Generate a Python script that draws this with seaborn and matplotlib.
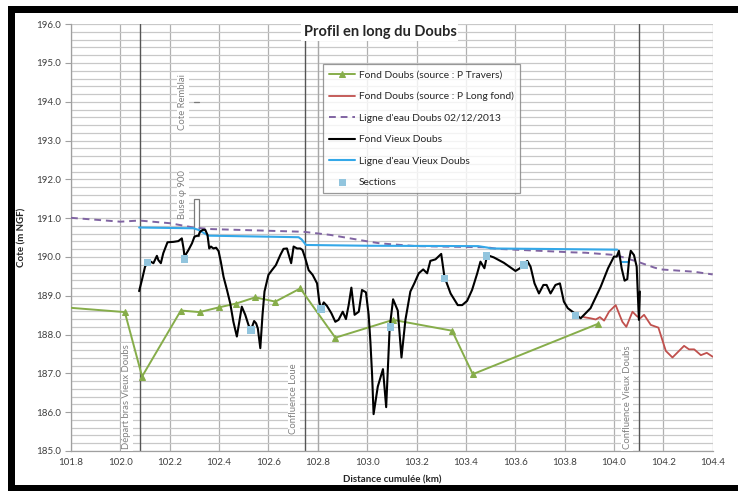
import numpy as np
import pandas as pd
import matplotlib
matplotlib.use("Agg")
import matplotlib.pyplot as plt
from matplotlib.patches import Rectangle
from matplotlib.ticker import MultipleLocator
import seaborn as sns

# ---------------------------------------------------------------
# Data (distance in km, cote in m NGF)
# ---------------------------------------------------------------
green_x = [101.70, 102.018, 102.088, 102.245, 102.321, 102.398, 102.469, 102.546,
           102.628, 102.729, 102.871, 103.105, 103.344, 103.428, 103.936]
green_y = [188.74, 188.58, 186.92, 188.62, 188.58, 188.70, 188.80, 188.96,
           188.85, 189.19, 187.92, 188.38, 188.10, 186.98, 188.28]

red_x = [103.878, 103.905, 103.926, 103.943, 103.960, 103.980, 104.007, 104.020,
         104.034, 104.050, 104.075, 104.092, 104.106, 104.122, 104.149, 104.180,
         104.210, 104.237, 104.284, 104.304, 104.325, 104.352, 104.376, 104.400]
red_y = [188.45, 188.42, 188.39, 188.45, 188.36, 188.59, 188.76, 188.55,
         188.33, 188.20, 188.59, 188.48, 188.42, 188.51, 188.25, 188.18,
         187.58, 187.41, 187.71, 187.62, 187.62, 187.47, 187.53, 187.43]

purple_x = [101.80, 102.00, 102.077, 102.202, 102.296, 102.364, 102.742, 102.85,
            103.013, 103.054, 103.20, 103.486, 103.527, 103.831, 103.885, 104.007,
            104.095, 104.162, 104.19, 104.325, 104.40]
purple_y = [191.01, 190.91, 190.94, 190.87, 190.76, 190.72, 190.65, 190.57,
            190.39, 190.35, 190.28, 190.25, 190.21, 190.12, 190.11, 190.05,
            189.88, 189.73, 189.68, 189.62, 189.55]

black_x = [102.076, 102.089, 102.100, 102.110, 102.123, 102.134, 102.148, 102.154, 102.164, 102.174,
           102.191, 102.215, 102.235, 102.249, 102.256, 102.260, 102.276, 102.290, 102.300, 102.310,
           102.316, 102.323, 102.334, 102.344, 102.353, 102.360, 102.367, 102.377, 102.388, 102.398,
           102.407, 102.418, 102.432, 102.445, 102.458, 102.472, 102.482, 102.492, 102.506, 102.519,
           102.529, 102.542, 102.550, 102.557, 102.567, 102.576, 102.584, 102.600, 102.614, 102.630,
           102.648, 102.661, 102.675, 102.692, 102.702, 102.716, 102.729, 102.738, 102.749, 102.763,
           102.779, 102.797, 102.806, 102.813, 102.824, 102.837, 102.855, 102.871, 102.884, 102.901,
           102.914, 102.925, 102.936, 102.949, 102.966, 102.979, 102.995, 103.006, 103.013, 103.020,
           103.026, 103.043, 103.064, 103.077, 103.091, 103.105, 103.124, 103.139, 103.155, 103.175,
           103.191, 103.209, 103.227, 103.243, 103.256, 103.277, 103.300, 103.313, 103.338, 103.367,
           103.385, 103.405, 103.425, 103.446, 103.459, 103.475, 103.486, 103.513, 103.554, 103.601,
           103.619, 103.635, 103.649, 103.662, 103.678, 103.696, 103.714, 103.727, 103.743, 103.763,
           103.781, 103.797, 103.813, 103.838, 103.865, 103.905, 103.946, 103.976, 104.000, 104.011,
           104.020, 104.031, 104.043, 104.054, 104.061, 104.068, 104.081, 104.092, 104.097, 104.101,
           104.105]
black_y = [189.12, 189.45, 189.75, 189.86, 189.88, 189.84, 190.03, 189.92, 189.84, 190.10,
           190.38, 190.39, 190.41, 190.48, 190.22, 190.01, 190.18, 190.35, 190.52, 190.55,
           190.55, 190.65, 190.70, 190.70, 190.57, 190.22, 190.27, 190.22, 190.24, 190.15,
           189.88, 189.49, 189.15, 188.81, 188.33, 187.95, 188.33, 188.72, 188.51, 188.25,
           188.12, 188.35, 188.29, 188.16, 187.65, 188.51, 189.11, 189.54, 189.66, 189.79,
           190.05, 190.21, 190.22, 189.84, 190.27, 190.22, 190.22, 190.18, 189.97, 189.66,
           189.54, 189.32, 188.85, 188.66, 188.83, 188.74, 188.55, 188.33, 188.38, 188.59,
           188.40, 188.76, 189.21, 188.51, 188.59, 189.15, 189.09, 188.51, 187.82, 186.96,
           185.95, 186.66, 187.11, 186.13, 188.16, 188.91, 188.62, 187.41, 188.38, 189.11,
           189.32, 189.58, 189.68, 189.58, 189.90, 189.94, 190.08, 189.49, 189.06, 188.76,
           188.76, 188.87, 189.15, 189.58, 189.88, 189.71, 190.05, 189.99, 189.85, 189.64,
           189.71, 189.82, 189.90, 189.75, 189.32, 189.06, 189.28, 189.28, 189.06, 189.28,
           189.32, 188.85, 188.68, 188.56, 188.42, 188.68, 189.23, 189.71, 190.01, 190.01,
           190.16, 189.71, 189.39, 189.43, 189.92, 190.16, 190.05, 189.75, 188.98, 188.38,
           189.11]

blue_x = [102.076, 102.296, 102.316, 102.357, 102.722, 102.735, 102.752, 103.000,
          103.450, 103.490, 103.500, 104.013]
blue_y = [190.76, 190.74, 190.70, 190.55, 190.51, 190.45, 190.31, 190.29,
          190.28, 190.24, 190.22, 190.19]
blue_seg_x = [104.031, 104.061]
blue_seg_y = [189.88, 189.88]

sec_x = [102.110, 102.260, 102.529, 102.813, 103.094, 103.313, 103.484, 103.635, 103.845]
sec_y = [189.86, 189.95, 188.12, 188.66, 188.20, 189.45, 190.03, 189.79, 188.49]

# vertical reference lines and their labels
ref_lines = [102.08, 102.75, 104.10]
ref_labels = ["Départ bras Vieux Doubs", "Confluence Loue", "Confluence Vieux Doubs"]
ref_label_x = [102.026, 102.702, 104.054]
ref_label_y = [185.04, 185.45, 185.04]

labels = ["Fond Doubs (source : P Travers)", "Fond Doubs (source : P Long fond)",
          "Ligne d'eau Doubs 02/12/2013", "Fond Vieux Doubs",
          "Ligne d'eau Vieux Doubs", "Sections"]

GREEN = "#86ad4a"
RED = "#c0504d"
PURPLE = "#8064a2"
BLUE = "#34a8e8"
SECT = "#92c5de"
GRAYTXT = "#808080"

sns.set_style("white")
plt.rcParams["font.family"] = ["Lato", "DejaVu Sans"]

fig = plt.figure(figsize=(7.38, 4.91), dpi=100)
ax = fig.add_axes([71 / 738, 1 - 451 / 491, 641.7 / 738, 426.8 / 491])

# gridlines
ax.set_xlim(101.8, 104.4)
ax.set_ylim(185, 196)
ax.xaxis.set_major_locator(MultipleLocator(0.2))
ax.yaxis.set_major_locator(MultipleLocator(1.0))
ax.yaxis.set_minor_locator(MultipleLocator(0.2))
ax.grid(axis="x", which="major", color="#b0b0b0", lw=0.9)
ax.grid(axis="y", which="both", color="#c8c8c8", lw=0.9)
ax.set_axisbelow(True)

ax.axvline(102.80, color="#a8a8a8", lw=0.9, zorder=1)
for xv in ref_lines:
    ax.axvline(xv, color="#555555", lw=1.0, zorder=1)

# series
sns.lineplot(x=green_x, y=green_y, ax=ax, color=GREEN, lw=1.4, marker="^",
             markersize=5, markeredgecolor=GREEN, sort=False, estimator=None,
             label=labels[0], zorder=4)
sns.lineplot(x=red_x, y=red_y, ax=ax, color=RED, lw=1.3, sort=False,
             estimator=None, label=labels[1], zorder=4)
sns.lineplot(x=purple_x, y=purple_y, ax=ax, color=PURPLE, lw=1.4, sort=False,
             estimator=None, label=labels[2], dashes=False, zorder=3)
ax.lines[-1].set_dashes((3.5, 2.5))
sns.lineplot(x=black_x, y=black_y, ax=ax, color="black", lw=1.5, sort=False,
             estimator=None, label=labels[3], zorder=5)
sns.lineplot(x=blue_x, y=blue_y, ax=ax, color=BLUE, lw=1.5, sort=False,
             estimator=None, label=labels[4], zorder=4)
sns.lineplot(x=blue_seg_x, y=blue_seg_y, ax=ax, color=BLUE, lw=1.5,
             estimator=None, zorder=4, legend=False)
sns.scatterplot(x=sec_x, y=sec_y, ax=ax, color=SECT, marker="s", s=28,
                edgecolor="none", label=labels[5], zorder=6)

# buse and remblai annotations
ax.add_patch(Rectangle((102.300, 190.55), 0.020, 0.95, facecolor="white",
                       edgecolor="#7a7a7a", lw=0.9, zorder=2))
ax.plot([102.300, 102.320], [194.0, 194.0], color="#7a7a7a", lw=0.9, zorder=2)
bb = dict(facecolor="white", edgecolor="none", pad=1.0)
ax.text(102.253, 194.0, "Cote Remblai", rotation=90, ha="center", va="center",
        fontsize=6.8, color=GRAYTXT, bbox=bb, zorder=3)
ax.text(102.253, 191.6, "Buse φ 900", rotation=90, ha="center", va="center",
        fontsize=6.8, color=GRAYTXT, bbox=bb, zorder=3)
for lx, ly, t in zip(ref_label_x, ref_label_y, ref_labels):
    ax.text(lx, ly, t, rotation=90, ha="center", va="bottom", fontsize=6.8,
            color=GRAYTXT, bbox=bb, zorder=3)

# title inside the plot area
ax.text(0.4815, 0.982, "Profil en long du Doubs", transform=ax.transAxes,
        ha="center", va="center", fontsize=10.5, fontweight="bold",
        bbox=dict(facecolor="white", edgecolor="none", pad=1.5), zorder=7)

# axes styling
ax.set_xticks(np.arange(101.8, 104.41, 0.2))
ax.set_xticklabels([f"{v:.1f}" for v in np.arange(101.8, 104.41, 0.2)])
ax.set_yticklabels([f"{v:.1f}" for v in ax.get_yticks()])
ax.tick_params(axis="both", labelsize=7, labelcolor="#404040")
ax.tick_params(axis="y", which="major", length=4, color="#a0a0a0", left=True, pad=3)
ax.tick_params(axis="x", length=0, pad=5)
for s in ["top", "right"]:
    ax.spines[s].set_visible(False)
for s in ["left", "bottom"]:
    ax.spines[s].set_color("#a0a0a0")
    ax.spines[s].set_linewidth(0.9)
ax.set_xlabel("Distance cumulée (km)", fontsize=7, fontweight="bold", labelpad=6)
ax.set_ylabel("Cote (m NGF)", fontsize=7, fontweight="bold", labelpad=7)

leg = ax.legend(loc="upper left", bbox_to_anchor=(0.393, 0.907), borderaxespad=0,
                fontsize=7.4, frameon=True, fancybox=False, handlelength=2.5,
                labelspacing=1.2, borderpad=0.6, handletextpad=0.35)
leg.get_frame().set_edgecolor("#808080")
leg.get_frame().set_linewidth(0.9)
leg.set_zorder(8)

# black screenshot frame
fig.patches.append(Rectangle((8 / 738, 0), 7 / 738, 1 - 6 / 491, transform=fig.transFigure,
                             facecolor="black", edgecolor="none", zorder=-1))
fig.patches.append(Rectangle((8 / 738, 1 - 13 / 491), 730 / 738, 7 / 491,
                             transform=fig.transFigure, facecolor="black",
                             edgecolor="none", zorder=-1))
fig.patches.append(Rectangle((8 / 738, 0), 730 / 738, 6 / 491, transform=fig.transFigure,
                             facecolor="black", edgecolor="none", zorder=-1))

fig.savefig("out.png", dpi=100)
